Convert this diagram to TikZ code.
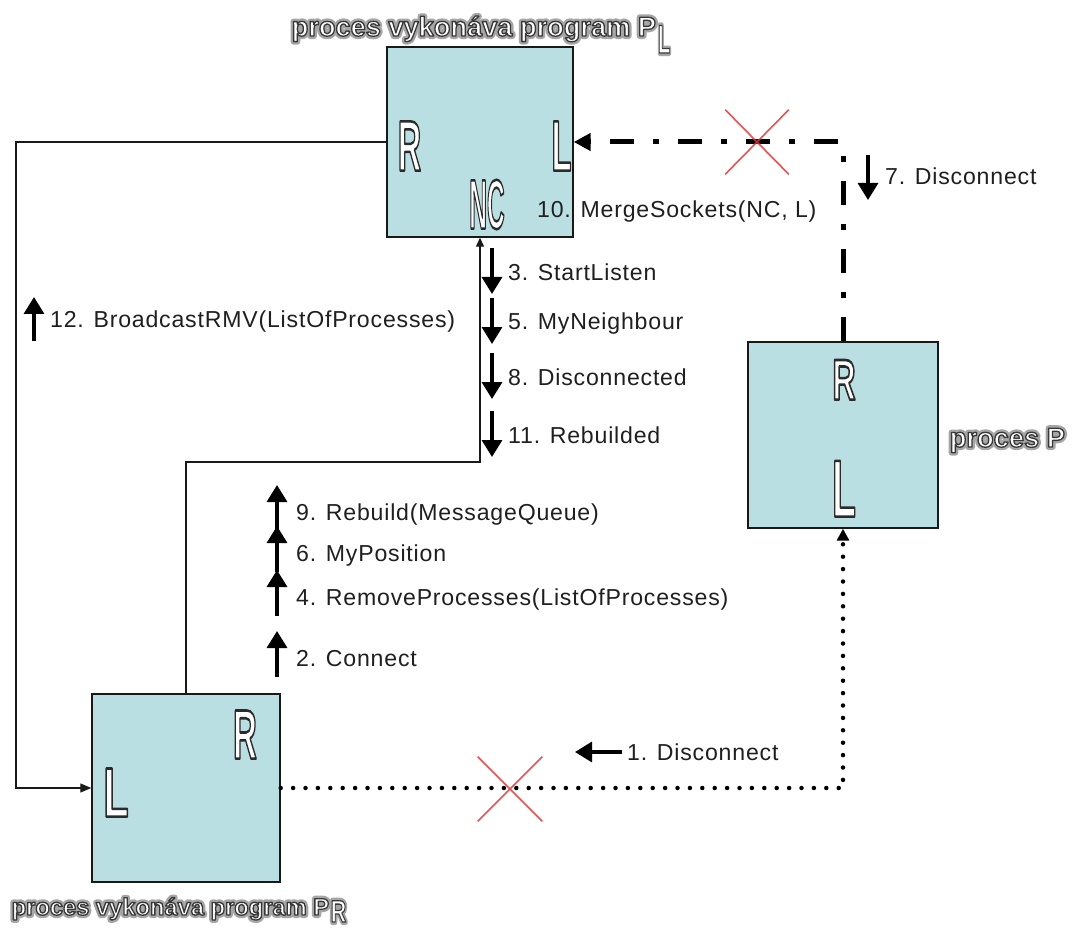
\documentclass[tikz,border=0pt]{standalone}
\usepackage{fontspec}
\usepackage{graphicx}
\setmainfont{Liberation Sans}
\newfontfamily\labelfont{Liberation Sans}[LetterSpace=3.5]
\usetikzlibrary{arrows.meta,shapes.misc}

\definecolor{boxfill}{RGB}{186,223,227}
\definecolor{crossred}{RGB}{228,52,52}
\definecolor{halo}{RGB}{165,165,165}

% glyphs filled with the current colour and stroked round their outline
% #1 stroke colour (rgb triple), #2 stroke width, #3 text
\newcommand\strokedtext[3]{%
  \special{pdf:literal direct 2 Tr #2 w 1 j #1 RG}#3\special{pdf:literal direct 0 Tr}}

% white letters with a dark rim: #1 name, #2 position, #3 font, #4 text
\newcommand\hollow[4]{%
  \node[font=#3,text=white,anchor=base,inner sep=0pt] (#1) at (#2)
    {\strokedtext{0.17 0.17 0.17}{2.6}{#4}};}

% titles: grey halo below a white, dark-rimmed copy
% #1 name, #2 position, #3 font, #4 text
\newcommand\proctitle[4]{%
  \node[font=#3,text=halo,anchor=base west,inner sep=0pt] (#1h) at (#2)
    {\strokedtext{0.65 0.65 0.65}{6}{#4}};
  \node[font=#3,text=white,anchor=base west,inner sep=0pt] (#1) at (#2)
    {\strokedtext{0.22 0.22 0.22}{1.3}{#4}};}

\newcommand\lettersize[1]{\bfseries\fontsize{#1}{#1}\selectfont}

\tikzset{
  procbox/.style={rectangle, draw=black!90, line width=1.4pt, fill=boxfill,
    inner sep=0pt},
  conn/.style={line width=1.3pt, draw=black!90},
  msg/.style={line width=3.3pt, -{Triangle[length=17pt,width=20pt]}},
  lab/.style={font=\labelfont\fontsize{23.1}{23.1}\selectfont, text=black!88,
    anchor=base west, inner sep=0pt},
  dashdotline/.style={line width=5pt,
    dash pattern=on 24pt off 19pt on 6pt off 19pt,
    -{Triangle[length=17pt,width=17pt]}},
  dotline/.style={line width=4.5pt, line cap=round,
    dash pattern=on 0pt off 12.4pt,
    -{Triangle[length=12pt,width=12pt]}},
  crossmark/.style={cross out, draw=crossred, draw opacity=0.85,
    line width=1.6pt, inner sep=0pt},
}

\begin{document}
\begin{tikzpicture}[x=1pt,y=-1pt]
\useasboundingbox[fill=white] (0,0) rectangle (1077,936);

% the three processes
\node[procbox, minimum width=186pt, minimum height=190pt] (PL) at (480,142) {};
\node[procbox, minimum width=190pt, minimum height=186pt] (P)  at (843,435) {};
\node[procbox, minimum width=188pt, minimum height=188pt] (PR) at (186,788) {};

% socket letters
\hollow{plR}{409.5,170.6}{\lettersize{71.5}}{\scalebox{0.45}[1]{R}}
\hollow{plL}{561.5,170.6}{\lettersize{71.5}}{\scalebox{0.46}[1]{L}}
\hollow{plNC}{487,228.6}{\lettersize{70}}{\scalebox{0.35}[1]{NC}}
\hollow{pR}{844,399.6}{\lettersize{57.5}}{\scalebox{0.56}[1]{R}}
\hollow{pL}{844,516.6}{\lettersize{81}}{\scalebox{0.48}[1]{L}}
\hollow{prR}{245,758.6}{\lettersize{70}}{\scalebox{0.47}[1]{R}}
\hollow{prL}{116,816.6}{\lettersize{70}}{\scalebox{0.59}[1]{L}}

% titles
\proctitle{capPL}{291.5,36}{\bfseries\fontsize{27.2}{27.2}\selectfont}%
  {proces vykon\'ava program P\hspace{2pt}\raisebox{-17pt}{\fontsize{40}{40}\selectfont\scalebox{0.5}[1]{L}}}
\proctitle{capPR}{11.5,915}{\bfseries\fontsize{23.7}{23.7}\selectfont}%
  {proces vykon\'ava program P\hspace{1.5pt}\raisebox{-7pt}{\fontsize{31}{31}\selectfont\scalebox{0.7}[1]{R}}}
\proctitle{capP}{949.5,447}{\bfseries\fontsize{27.3}{27.3}\selectfont}{proces P}

% connections
\coordinate (lc) at (16,142);
\coordinate (mc) at (480,462);
\draw[conn, -{Triangle[length=11pt,width=9pt]}] (PL.west) -- (lc) |- (PR.west);
\draw[conn, -{Triangle[length=9pt,width=8pt]}] (PR.north) |- (mc) -- (PL.south);
\draw[dashdotline] (P.north) -- (P.north |- PL.east) -- (PL.east);
\draw[dotline] (PR.east) -| (P.south);

% broken links
\node[crossmark, minimum width=62pt, minimum height=63pt] (cut1) at (757,142) {};
\node[crossmark, minimum width=63pt, minimum height=63pt] (cut2) at (510,789) {};

% messages
\node[lab] (m1)  at (627,760) {1. Disconnect};
\node[lab] (m2)  at (296,666) {2. Connect};
\node[lab] (m3)  at (508,280) {3. StartListen};
\node[lab] (m4)  at (296,605) {4. RemoveProcesses(ListOfProcesses)};
\node[lab] (m5)  at (508,330) {5. MyNeighbour};
\node[lab] (m6)  at (296,561) {6. MyPosition};
\node[lab] (m7)  at (885,185) {7. Disconnect};
\node[lab] (m8)  at (508,385) {8. Disconnected};
\node[lab] (m9)  at (296,520) {9. Rebuild(MessageQueue)};
\node[lab] (m10) at (537,218) {10. MergeSockets(NC, L)};
\node[lab] (m11) at (508,443) {11. Rebuilded};
\node[lab] (m12) at (50,327)  {12. BroadcastRMV(ListOfProcesses)};

% message directions
\draw[msg] ([xshift=-5pt,yshift=8pt]m1.base west) -- ++(-47,0);
\foreach \m in {m3,m5,m8,m11}
  \draw[msg] ([xshift=-16pt]\m.base west) ++(0,-32) -- ++(0,46);
\draw[msg] ([xshift=-17pt]m7.base west) ++(0,-30) -- ++(0,45);
\foreach \m in {m2,m4,m6,m9}
  \draw[msg] ([xshift=-19pt]\m.base west) ++(0,11) -- ++(0,-46);
\draw[msg] ([xshift=-16pt]m12.base west) ++(0,14) -- ++(0,-44);
\end{tikzpicture}
\end{document}
